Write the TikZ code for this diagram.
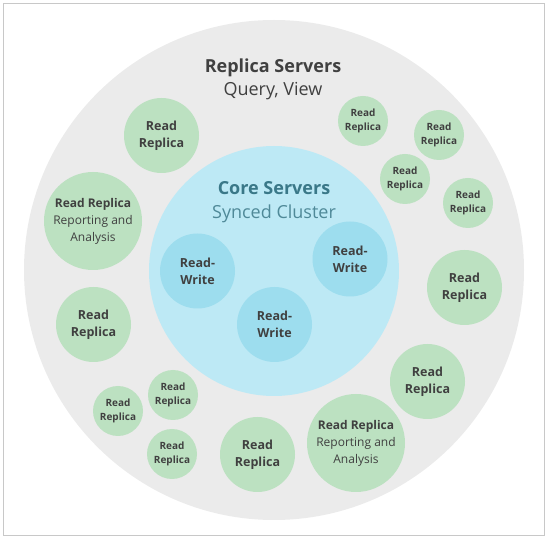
\documentclass[tikz,border=0pt]{standalone}
\usepackage{fontspec}
\setmainfont{Open Sans}
\definecolor{framecol}{HTML}{C8C8C8}
\definecolor{outergray}{HTML}{EBEBEB}
\definecolor{corecol}{HTML}{BDE9F5}
\definecolor{rwcol}{HTML}{9DDDEE}
\definecolor{greencol}{HTML}{BCE1C1}
\definecolor{txtcol}{HTML}{404040}
\definecolor{tealA}{HTML}{3A7888}
\definecolor{tealB}{HTML}{4F8998}
\tikzset{
  disc/.style={circle, inner sep=0pt, align=center, text=txtcol},
  bigrep/.style={disc, fill=greencol, minimum size=98pt, font=\fontsize{12}{17}\selectfont},
  medrep/.style={disc, fill=greencol, minimum size=75pt, font=\bfseries\fontsize{12.5}{17}\selectfont},
  smallrep/.style={disc, fill=greencol, minimum size=50pt, font=\bfseries\fontsize{10}{14}\selectfont},
  rwnode/.style={disc, fill=rwcol, minimum size=75pt, font=\bfseries\fontsize{12.5}{17}\selectfont},
  titletext/.style={anchor=base, inner sep=0pt}
}
\begin{document}
\begin{tikzpicture}[x=1pt,y=-1pt]
\useasboundingbox (0,0) rectangle (550,540);
\draw[framecol, line width=1pt] (3.5,3.5) rectangle (544,536);
\node[circle, fill=outergray, minimum size=500pt, inner sep=0pt] (outer) at (274,270) {};
\node[circle, fill=corecol, minimum size=250pt, inner sep=0pt] (core) at (274,271) {};
% titles
\node[titletext, text=txtcol, font=\bfseries\fontsize{18}{23}\selectfont] (reptitle) at (273,72.5) {Replica Servers};
\node[titletext, text=txtcol, font=\fontsize{18}{23}\selectfont] (repsub) at (273,95.5) {Query, View};
\node[titletext, text=tealA, font=\bfseries\fontsize{18}{23}\selectfont] (coretitle) at (274,195) {Core Servers};
\node[titletext, text=tealB, font=\fontsize{18}{23}\selectfont] (coresub) at (274,219) {Synced Cluster};
% read-write
\node[rwnode] (rw1) at (197.5,271) {Read-\\Write};
\node[rwnode] (rw2) at (350,259) {Read-\\Write};
\node[rwnode] (rw3) at (274.5,324.5) {Read-\\Write};
% replicas
\node[medrep] (ra) at (161.5,135.5) {Read\\Replica};
\node[bigrep] (rb) at (93,221) {\textbf{Read Replica}\\Reporting and\\Analysis};
\node[medrep] (rc) at (93.5,324.5) {Read\\Replica};
\node[smallrep] (rd) at (118,411) {Read\\Replica};
\node[smallrep] (re) at (173,395) {Read\\Replica};
\node[smallrep] (rf) at (172,454) {Read\\Replica};
\node[medrep] (rg) at (257.5,454.5) {Read\\Replica};
\node[bigrep] (rh) at (356,443) {\textbf{Read Replica}\\Reporting and\\Analysis};
\node[medrep] (ri) at (427.5,381.5) {Read\\Replica};
\node[medrep] (rj) at (464.5,287.5) {Read\\Replica};
\node[smallrep] (rk) at (363,121) {Read\\Replica};
\node[smallrep] (rl) at (439,135) {Read\\Replica};
\node[smallrep] (rm) at (405,179) {Read\\Replica};
\node[smallrep] (rn) at (468,203) {Read\\Replica};
\end{tikzpicture}
\end{document}
